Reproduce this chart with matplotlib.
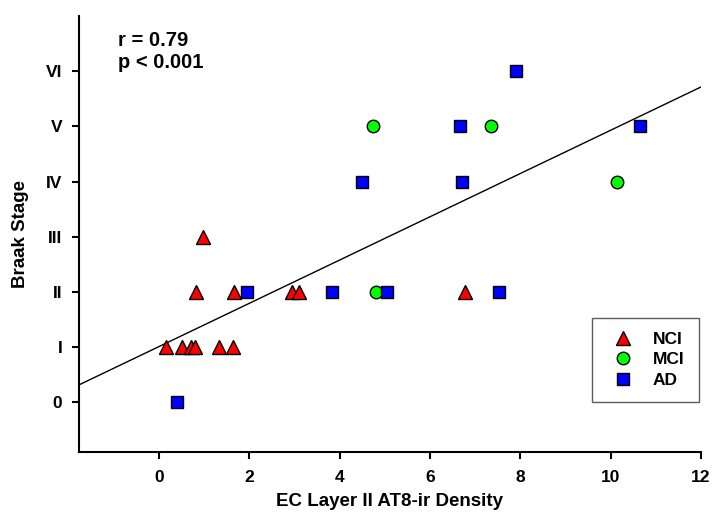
import numpy as np
import matplotlib
matplotlib.use('Agg')
import matplotlib.pyplot as plt

plt.rcParams['font.family'] = ['Liberation Sans', 'DejaVu Sans']
plt.rcParams['font.weight'] = 'bold'

# EC layer II AT8-ir density vs Braak stage, per diagnostic group
nci_x = [0.15, 0.51, 0.71, 0.80, 1.34, 1.64, 0.83, 1.67, 2.95, 3.10, 6.78, 0.97]
nci_y = [1, 1, 1, 1, 1, 1, 2, 2, 2, 2, 2, 3]
mci_x = [4.74, 7.34, 10.13, 4.80]
mci_y = [5, 5, 4, 2]
ad_x = [0.40, 1.96, 3.82, 5.04, 7.53, 4.49, 6.72, 6.67, 10.66, 7.91]
ad_y = [0, 2, 2, 2, 2, 4, 4, 5, 5, 6]

stage_labels = ['0', 'I', 'II', 'III', 'IV', 'V', 'VI']
x_ticks = [0, 2, 4, 6, 8, 10, 12]

# regression line
fit_intercept = 1.01
fit_slope = 0.392

fig = plt.figure(figsize=(7.28, 5.26), dpi=100)
ax = fig.add_axes([79/728, 74/526, 622/728, 436/526])

xmin, xmax = -1.77, 12
ax.set_xlim(xmin, xmax)
ax.set_ylim(-0.9, 7)

lx = np.array([xmin, xmax])
ax.plot(lx, fit_intercept + fit_slope*lx, color='black', lw=1.0, zorder=2)

ax.plot(nci_x, nci_y, '^', ms=10, mfc='#ff0000', mec='black', mew=1.0, ls='none', label='NCI', zorder=3)
ax.plot(mci_x, mci_y, 'o', ms=9, mfc='#00ff00', mec='black', mew=1.0, ls='none', label='MCI', zorder=3)
ax.plot(ad_x, ad_y, 's', ms=8, mfc='#0000ff', mec='black', mew=1.0, ls='none', label='AD', zorder=3)

for s in ['top', 'right']:
    ax.spines[s].set_visible(False)
for s in ['left', 'bottom']:
    ax.spines[s].set_linewidth(1.5)

ax.set_xticks(x_ticks)
ax.set_yticks(range(len(stage_labels)))
ax.set_yticklabels(stage_labels)
ax.tick_params(axis='both', direction='out', length=5, width=1.5, labelsize=12.5)
ax.tick_params(axis='x', pad=8)
ax.tick_params(axis='y', pad=7)

ax.set_xlabel('EC Layer II AT8-ir Density', fontsize=13.5, fontweight='bold', labelpad=6)
ax.set_ylabel('Braak Stage', fontsize=13.5, fontweight='bold', labelpad=12)

ax.text(0.063, 0.965, 'r = 0.79\np < 0.001', transform=ax.transAxes, fontsize=14.5,
        fontweight='bold', va='top', ha='left', linespacing=1.15)

leg = ax.legend(loc='upper right', bbox_to_anchor=(0.996, 0.308), fontsize=12.5,
                frameon=True, fancybox=False, edgecolor='#333333', borderpad=0.8,
                handlelength=2.0, handletextpad=0.7, labelspacing=0.32, borderaxespad=0)
leg.get_frame().set_linewidth(1.0)

fig.savefig('out.png', dpi=100)
